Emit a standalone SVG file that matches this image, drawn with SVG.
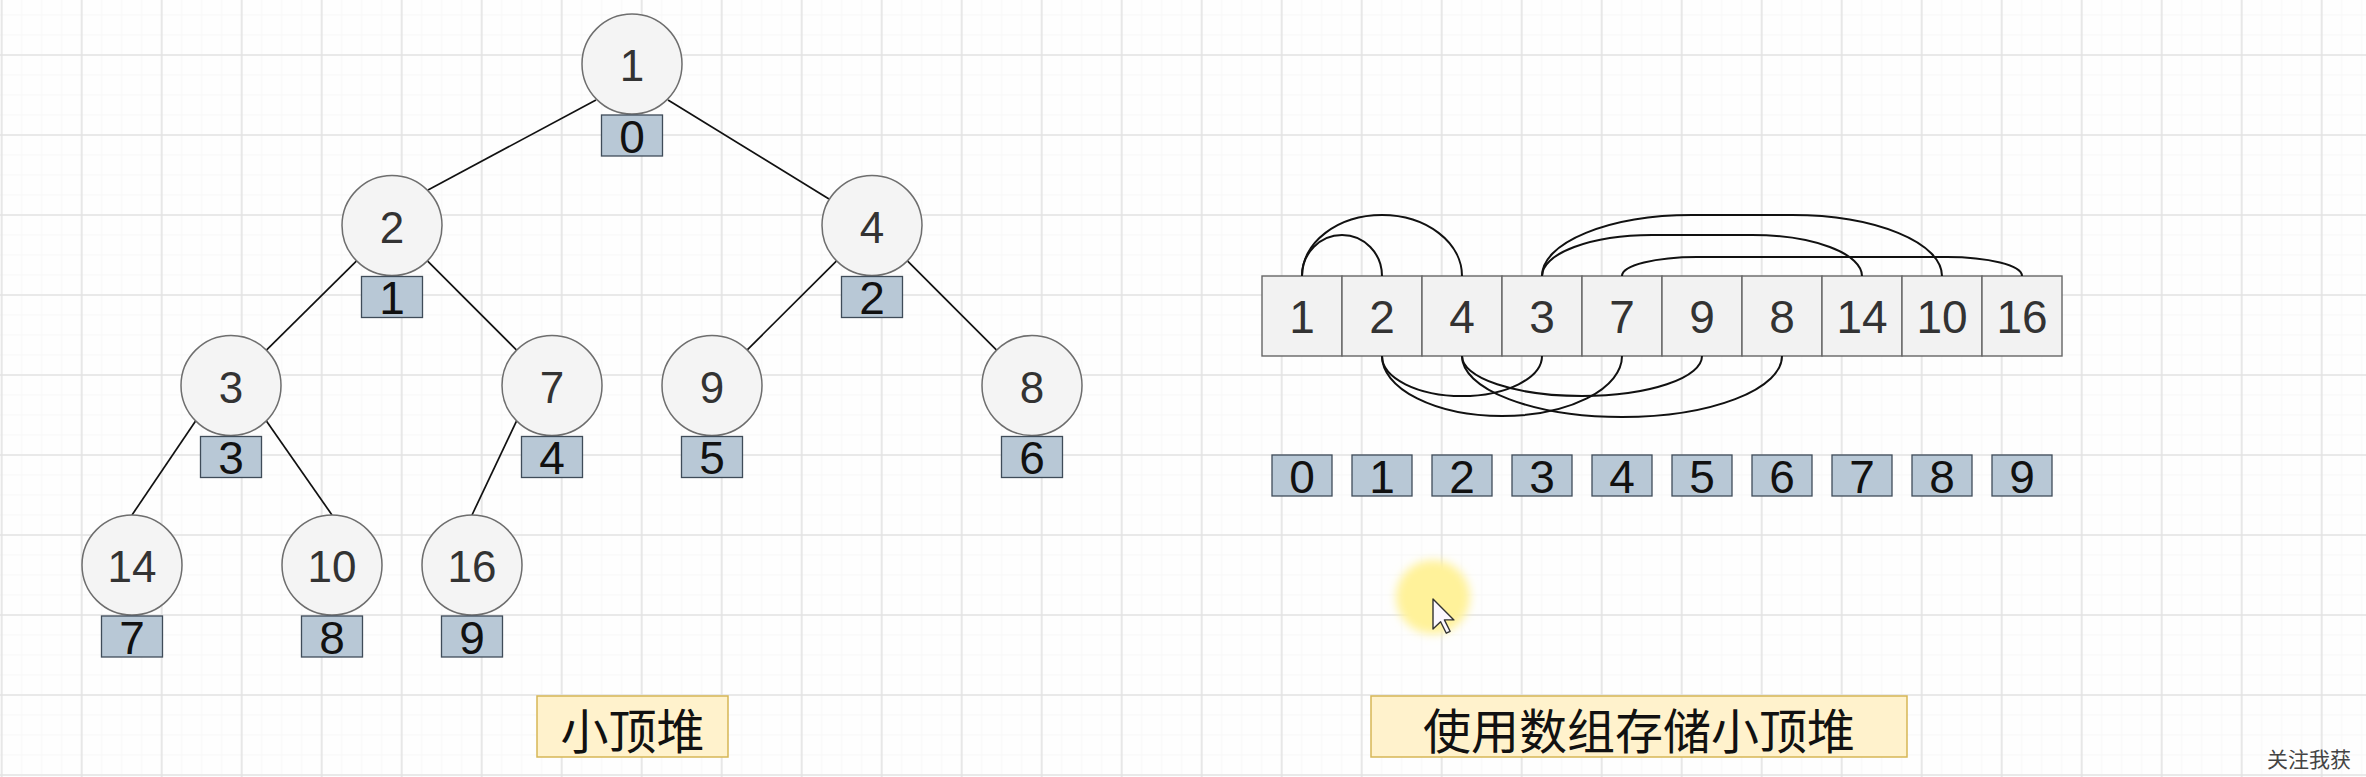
<svg xmlns="http://www.w3.org/2000/svg" width="2366" height="777" viewBox="0 0 2366 777">
<style>
.node circle{fill:#f4f4f4;stroke:#6e6e6e;stroke-width:1.5}
.node text{font-family:"Liberation Sans",Arial,sans-serif;font-size:44px;fill:#333;text-anchor:middle}
.idx rect{fill:#b8c8d6;stroke:#3f4c59;stroke-width:1.3}
.idx text{font-family:"Liberation Sans",Arial,sans-serif;font-size:46px;fill:#111;text-anchor:middle}
.cell rect{fill:#f2f2f2;stroke:#666;stroke-width:1.4}
.cell text{font-family:"Liberation Sans",Arial,sans-serif;font-size:46px;fill:#333;text-anchor:middle}
.edges line{stroke:#111;stroke-width:1.7}
.arcs path{fill:none;stroke:#111;stroke-width:2}
.cap rect{fill:#fff2cc;stroke:#d6b656;stroke-width:1.5}
.cap text{font-family:"Noto Sans CJK SC",sans-serif;font-size:48px;fill:#111;text-anchor:middle;dominant-baseline:central}
</style>
<defs>
<pattern id="gMinor" width="20" height="20" x="-8.3" y="5" patternUnits="userSpaceOnUse">
<path d="M10,0V20M0,10H20" stroke="#f7f7f7" stroke-width="1" fill="none"/>
</pattern>
<pattern id="gMajor" width="80" height="80" x="-38.3" y="15" patternUnits="userSpaceOnUse">
<path d="M40,0V80M0,40H80" stroke="#e3e3e3" stroke-width="1.6" fill="none"/>
</pattern>
<filter id="blur" x="-50%" y="-50%" width="200%" height="200%"><feGaussianBlur stdDeviation="5"/></filter>
</defs>
<rect width="2366" height="777" fill="#fefefe"/>
<rect width="2366" height="777" fill="url(#gMinor)"/>
<rect width="2366" height="777" fill="url(#gMajor)"/>

<g id="tree-edges" class="edges">
<line x1="596" y1="100" x2="428" y2="190"/>
<line x1="668" y1="100" x2="829" y2="199"/>
<line x1="356.6" y1="260.9" x2="266.4" y2="350.1"/>
<line x1="427.4" y1="260.9" x2="516.6" y2="350.1"/>
<line x1="836.6" y1="260.9" x2="747" y2="350.1"/>
<line x1="907.4" y1="260.9" x2="996.6" y2="350.1"/>
<line x1="195.6" y1="420.9" x2="132" y2="515"/>
<line x1="266.4" y1="420.9" x2="332" y2="515"/>
<line x1="516.6" y1="420.9" x2="472" y2="515"/>
</g>

<g id="node-1" class="node"><circle cx="632" cy="64" r="50"/><text x="632" y="81">1</text></g>
<g id="node-2" class="node"><circle cx="392" cy="225.5" r="50"/><text x="392" y="242.5">2</text></g>
<g id="node-4" class="node"><circle cx="872" cy="225.5" r="50"/><text x="872" y="242.5">4</text></g>
<g id="node-3" class="node"><circle cx="231" cy="385.5" r="50"/><text x="231" y="402.5">3</text></g>
<g id="node-7" class="node"><circle cx="552" cy="385.5" r="50"/><text x="552" y="402.5">7</text></g>
<g id="node-9" class="node"><circle cx="712" cy="385.5" r="50"/><text x="712" y="402.5">9</text></g>
<g id="node-8" class="node"><circle cx="1032" cy="385.5" r="50"/><text x="1032" y="402.5">8</text></g>
<g id="node-14" class="node"><circle cx="132" cy="565" r="50"/><text x="132" y="582">14</text></g>
<g id="node-10" class="node"><circle cx="332" cy="565" r="50"/><text x="332" y="582">10</text></g>
<g id="node-16" class="node"><circle cx="472" cy="565" r="50"/><text x="472" y="582">16</text></g>

<g id="tidx-0" class="idx"><rect x="601.5" y="115" width="61" height="41"/><text x="632" y="152.5">0</text></g>
<g id="tidx-1" class="idx"><rect x="361.5" y="276.5" width="61" height="41"/><text x="392" y="314">1</text></g>
<g id="tidx-2" class="idx"><rect x="841.5" y="276.5" width="61" height="41"/><text x="872" y="314">2</text></g>
<g id="tidx-3" class="idx"><rect x="200.5" y="436.5" width="61" height="41"/><text x="231" y="474">3</text></g>
<g id="tidx-4" class="idx"><rect x="521.5" y="436.5" width="61" height="41"/><text x="552" y="474">4</text></g>
<g id="tidx-5" class="idx"><rect x="681.5" y="436.5" width="61" height="41"/><text x="712" y="474">5</text></g>
<g id="tidx-6" class="idx"><rect x="1001.5" y="436.5" width="61" height="41"/><text x="1032" y="474">6</text></g>
<g id="tidx-7" class="idx"><rect x="101.5" y="616" width="61" height="41"/><text x="132" y="653.5">7</text></g>
<g id="tidx-8" class="idx"><rect x="301.5" y="616" width="61" height="41"/><text x="332" y="653.5">8</text></g>
<g id="tidx-9" class="idx"><rect x="441.5" y="616" width="61" height="41"/><text x="472" y="653.5">9</text></g>

<g id="array" class="cell">
<g id="cell-0"><rect x="1262" y="276" width="80" height="80"/><text x="1302" y="333">1</text></g>
<g id="cell-1"><rect x="1342" y="276" width="80" height="80"/><text x="1382" y="333">2</text></g>
<g id="cell-2"><rect x="1422" y="276" width="80" height="80"/><text x="1462" y="333">4</text></g>
<g id="cell-3"><rect x="1502" y="276" width="80" height="80"/><text x="1542" y="333">3</text></g>
<g id="cell-4"><rect x="1582" y="276" width="80" height="80"/><text x="1622" y="333">7</text></g>
<g id="cell-5"><rect x="1662" y="276" width="80" height="80"/><text x="1702" y="333">9</text></g>
<g id="cell-6"><rect x="1742" y="276" width="80" height="80"/><text x="1782" y="333">8</text></g>
<g id="cell-7"><rect x="1822" y="276" width="80" height="80"/><text x="1862" y="333">14</text></g>
<g id="cell-8"><rect x="1902" y="276" width="80" height="80"/><text x="1942" y="333">10</text></g>
<g id="cell-9"><rect x="1982" y="276" width="80" height="80"/><text x="2022" y="333">16</text></g>
</g>

<g id="array-arcs" class="arcs">
<path d="M1302,276 A40,41 0 0 1 1382,276"/>
<path d="M1302,276 A80,61 0 0 1 1462,276"/>
<path d="M1542,276 A110,41 0 0 1 1652,235 L1752,235 A110,41 0 0 1 1862,276"/>
<path d="M1542,276 A150,61 0 0 1 1692,215 L1792,215 A150,61 0 0 1 1942,276"/>
<path d="M1622,276 A75,19 0 0 1 1697,257 L1947,257 A75,19 0 0 1 2022,276"/>
<path d="M1382,356 A80,40 0 0 0 1542,356"/>
<path d="M1382,356 A120,60 0 0 0 1622,356"/>
<path d="M1462,356 A120,40 0 0 0 1702,356"/>
<path d="M1462,356 A160,61 0 0 0 1782,356"/>
</g>

<g id="aidx-0" class="idx"><rect x="1272" y="455" width="60" height="41"/><text x="1302" y="492.5">0</text></g>
<g id="aidx-1" class="idx"><rect x="1352" y="455" width="60" height="41"/><text x="1382" y="492.5">1</text></g>
<g id="aidx-2" class="idx"><rect x="1432" y="455" width="60" height="41"/><text x="1462" y="492.5">2</text></g>
<g id="aidx-3" class="idx"><rect x="1512" y="455" width="60" height="41"/><text x="1542" y="492.5">3</text></g>
<g id="aidx-4" class="idx"><rect x="1592" y="455" width="60" height="41"/><text x="1622" y="492.5">4</text></g>
<g id="aidx-5" class="idx"><rect x="1672" y="455" width="60" height="41"/><text x="1702" y="492.5">5</text></g>
<g id="aidx-6" class="idx"><rect x="1752" y="455" width="60" height="41"/><text x="1782" y="492.5">6</text></g>
<g id="aidx-7" class="idx"><rect x="1832" y="455" width="60" height="41"/><text x="1862" y="492.5">7</text></g>
<g id="aidx-8" class="idx"><rect x="1912" y="455" width="60" height="41"/><text x="1942" y="492.5">8</text></g>
<g id="aidx-9" class="idx"><rect x="1992" y="455" width="60" height="41"/><text x="2022" y="492.5">9</text></g>

<g id="caption-heap" class="cap"><rect x="537" y="696" width="191" height="61"/><text x="632.5" y="728">小顶堆</text></g>
<g id="caption-array" class="cap"><rect x="1371" y="696" width="536" height="61"/><text x="1639" y="728">使用数组存储小顶堆</text></g>

<g id="cursor">
<circle cx="1433" cy="597" r="37" fill="#fff29a" filter="url(#blur)"/>
<polygon points="1433,599 1433,629 1440.6,621.8 1446.3,633.2 1450.1,631.3 1444.4,619.9 1453.9,619.9" fill="#fbf8ff" stroke="#333" stroke-width="1.4" stroke-linejoin="round"/>
</g>

<text x="2267" y="767" font-family="Noto Sans CJK SC,sans-serif" font-size="21" fill="#444">关注我获</text>
</svg>
